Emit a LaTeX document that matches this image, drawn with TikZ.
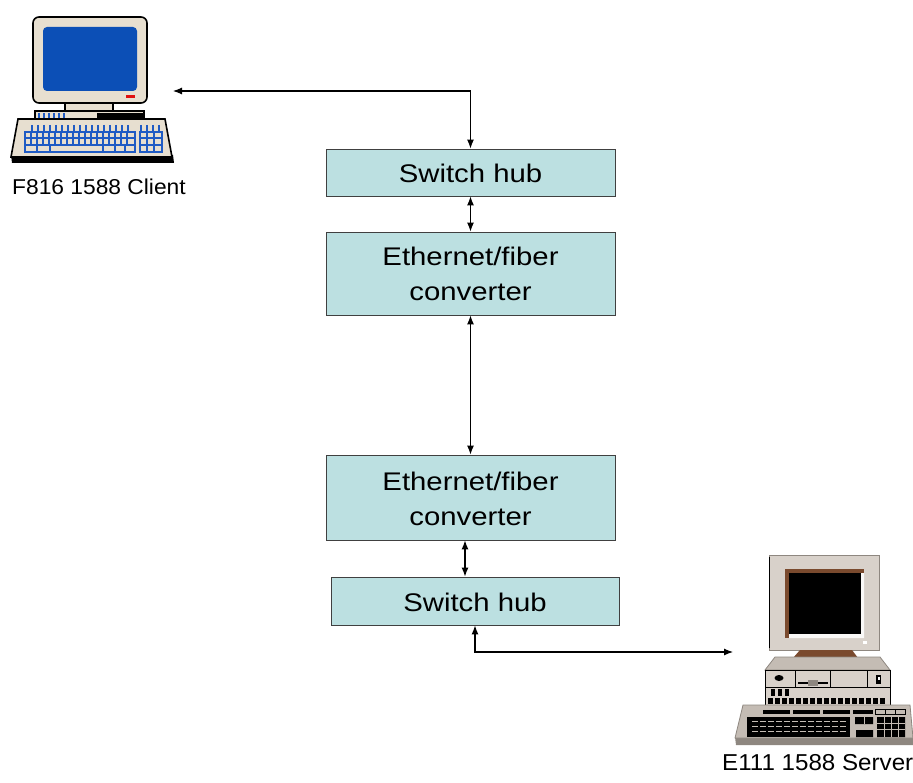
\documentclass[tikz,border=0pt]{standalone}
\usepackage{fontspec}
\setmainfont{Liberation Sans}
\usepackage{graphicx}
\usetikzlibrary{arrows.meta}

\definecolor{boxfill}{HTML}{BCE0E1}
\definecolor{boxline}{HTML}{404040}
\definecolor{bezel}{HTML}{E7DFD0}
\definecolor{scrblue}{HTML}{0C4FB6}
\definecolor{keyblue}{HTML}{1F5BC4}
\definecolor{ledred}{HTML}{E01010}
\definecolor{srvpale}{HTML}{D8D1CA}
\definecolor{srvgray}{HTML}{C4BCB4}
\definecolor{srvdark}{HTML}{8E8780}
\definecolor{srvbrown}{HTML}{7A4A2E}

% wide box lettering, set slightly below the box centre
\newcommand{\boxlabel}[1]{\raisebox{0pt}[\dimexpr\height+6pt\relax][\depth]{%
  \scalebox{1.15}[1]{\fontsize{25.5}{35}\selectfont
  \begin{tabular}{@{}c@{}}#1\end{tabular}}}}

\tikzset{
  unitbox/.style={draw=boxline, line width=0.9pt, fill=boxfill,
    minimum width=289pt, inner sep=0pt},
  link/.style={line width=1.1pt, {Latex[length=9pt,width=7pt]}-{Latex[length=9pt,width=7pt]}},
  pclabel/.style={anchor=base west, inner sep=0pt},
  kb/.style={draw=keyblue, line width=1.3pt},
  outline/.style={draw=black, line width=1.6pt},
}

\begin{document}
\begin{tikzpicture}[x=1pt, y=-1pt]
\useasboundingbox (0,0) rectangle (913,783);

% ---------------- network units ----------------
\node[unitbox, minimum height=47pt] (hubA) at (470.5,172.5) {\boxlabel{Switch hub}};
\node[unitbox, minimum height=83pt] (convA) at (470.5,273.5) {\boxlabel{Ethernet/fiber\\converter}};
\node[unitbox, minimum height=85pt] (convB) at (470.5,497.5) {\boxlabel{Ethernet/fiber\\converter}};
\node[unitbox, minimum width=288pt, minimum height=48pt] (hubB) at (475,601) {\boxlabel{Switch hub}};

% ---------------- client workstation ----------------
% keyboard
\fill[black] (11,155) -- (173,155) -- (174,163) -- (12,163) -- cycle;
\filldraw[fill=bezel, outline] (18,119) -- (165,119) -- (172,157) -- (11,157) -- cycle;
% base unit and neck
\filldraw[fill=bezel, outline] (35,111) rectangle (144,119);
\fill[black] (97,113) rectangle (143,118.5);
\foreach \x in {39,44,...,67} \draw[keyblue, line width=1.2pt] (\x,113) -- (\x,118);
\filldraw[fill=bezel, outline] (65,102) rectangle (113,111);
% monitor
\filldraw[fill=bezel, outline, rounded corners=6pt] (33,17) rectangle (147,103);
\fill[scrblue, rounded corners=4pt] (43,27) rectangle (137,91);
\fill[ledred] (126,95.5) rectangle (135,98.5);
% keys
\foreach \x in {32,38,...,132} \draw[kb] (\x,125) -- (\x,132);
\draw[kb] (25,132) rectangle (135,152);
\draw[kb] (25,138) -- (135,138) (25,145) -- (135,145);
\foreach \x in {31,37,...,129} \draw[kb] (\x,132) -- (\x,145);
\foreach \x in {37,50,103,115,125} \draw[kb] (\x,145) -- (\x,152);
\foreach \x in {141,147,153,159} \draw[kb] (\x,125) -- (\x,132);
\draw[kb] (140,132) rectangle (162,152);
\draw[kb] (147,132) -- (147,152) (154,132) -- (154,152) (140,138) -- (162,138) (140,145) -- (162,145);

\node[pclabel] (cliname) at (12,195) {\scalebox{1.06}[1]{\fontsize{21.5}{26}\selectfont F816 1588 Client}};
\coordinate (cliport) at (173,91);

% ---------------- server workstation ----------------
% monitor
\filldraw[fill=srvpale, draw=srvdark, line width=0.8pt] (769,555) rectangle (879,650);
\draw[black, line width=1.2pt] (769.5,557) -- (769.5,648);
\fill[srvbrown] (785,569) rectangle (864,638);
\fill[white!85!srvpale] (789,634) rectangle (864,638) (861,573) rectangle (864,638);
\fill[black] (789,573) rectangle (861,634);
\fill[white] (863,641) rectangle (867,643.5);
% stand
\fill[srvbrown] (800,650) -- (852,650) -- (858,658) -- (793,658) -- cycle;
\fill[srvdark] (793,658) rectangle (858,665);
% case
\filldraw[fill=srvgray, draw=srvdark, line width=0.8pt] (775,657) -- (880,657) -- (890,670) -- (765,670) -- cycle;
\filldraw[fill=srvpale, draw=black, line width=1pt] (765,670) rectangle (890,707);
\draw[black, line width=0.8pt] (765,687) -- (890,687)
  (795,670) -- (795,687) (830,670) -- (830,687) (867,670) -- (867,687);
\fill[black] (779,678) ellipse [x radius=4.5pt, y radius=3pt];
\draw[black, line width=1.6pt] (798,683) -- (828,683);
\fill[srvdark] (808,680) rectangle (818,686);
\fill[black] (876,675) rectangle (881,684);
\fill[white] (877.5,677) rectangle (879.5,680);
\foreach \x in {771,778,785} \fill[black] (\x,689) rectangle (\x+4,696);
\foreach \x in {768,775,...,884} \fill[black] (\x,698) rectangle (\x+4.5,703.5);
% keyboard
\fill[srvdark] (735,737) -- (913,737) -- (913,745) -- (736,745) -- cycle;
\filldraw[fill=srvgray, draw=srvdark, line width=0.8pt] (743,705) -- (910,705) -- (913,738) -- (735,738) -- cycle;
\foreach \a/\b in {763/790,793/820,823/850,853/873} \fill[black] (\a,709.5) rectangle (\b,714);
\draw[black, line width=0.7pt] (875,709.5) rectangle (905,714) (885,709.5) -- (885,714) (895,709.5) -- (895,714);
\fill[black] (747,717) rectangle (850,737);
\foreach \y in {721.5,726.5,731.5}
  \draw[srvgray, line width=0.6pt, dash pattern=on 6pt off 2pt] (752,\y) -- (846,\y);
\fill[black] (855,717) rectangle (873,724) (856,730) rectangle (873,737) (877,717) rectangle (905,737);
\draw[srvgray, line width=0.6pt] (864,717) -- (864,724) (877,723) -- (905,723) (877,729) -- (905,729)
  (884,717) -- (884,737) (891,717) -- (891,737) (898,717) -- (898,737);

\node[pclabel] (srvname) at (722,770) {\scalebox{1.05}[1]{\fontsize{23}{28}\selectfont E111 1588 Server}};
\coordinate (srvport) at (733,652);

% ---------------- connections ----------------
\draw[link] (cliport) -| (hubA.north);
\draw[link] (hubA.south) -- (convA.north);
\draw[link] (convA.south) -- (convB.north);
\draw[link] ([xshift=-5.5pt]convB.south) -- ([xshift=-5.5pt]convB.south |- hubB.north);
\draw[link] (hubB.south) |- (srvport);

\end{tikzpicture}
\end{document}
